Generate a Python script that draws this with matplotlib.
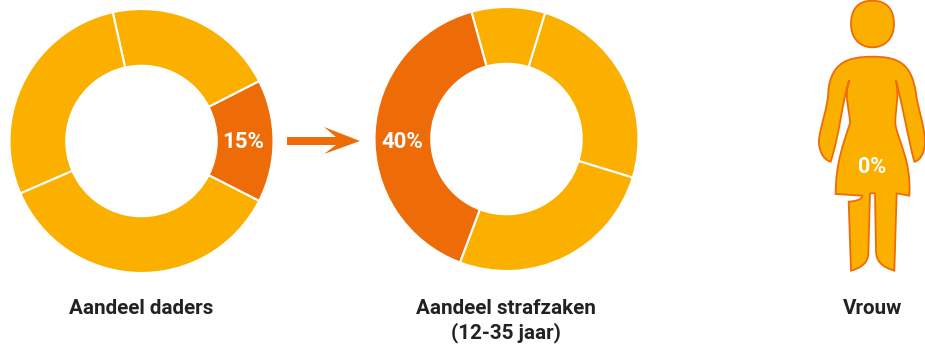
import matplotlib
matplotlib.use('Agg')
import matplotlib.pyplot as plt
from matplotlib.path import Path
from matplotlib.patches import PathPatch, Polygon

W, H = 925, 347
plt.rcParams['font.family'] = ['Roboto', 'DejaVu Sans']

# aandeel per groep, het gemarkeerde deel heeft de donkere kleur
daders = [15, 21, 28, 36]
daders_colors = ['#ee6c08', '#fbb000', '#fbb000', '#fbb000']
strafzaken = [25, 9, 40, 26]
strafzaken_colors = ['#fbb000', '#fbb000', '#ee6c08', '#fbb000']

label_daders = '15%'
label_strafzaken = '40%'
label_vrouw = '0%'
title_daders = 'Aandeel daders'
title_strafzaken = 'Aandeel strafzaken'
sub_strafzaken = '(12-35 jaar)'
title_vrouw = 'Vrouw'

ORANGE = '#ee6c08'
YELLOW = '#fbb000'
TEXT = '#222222'

fig = plt.figure(figsize=(W / 100, H / 100), dpi=100)


def donut(vals, colors, start, cx, cy, r=132):
    ax = fig.add_axes([(cx - r - 2) / W, 1 - (cy + r + 2) / H, (2 * r + 4) / W, (2 * r + 4) / H])
    ax.pie(vals, colors=colors, startangle=start, counterclock=True, radius=1,
           wedgeprops={'width': 0.43, 'edgecolor': 'white', 'linewidth': 1.5})
    ax.set_xlim(-(r + 2) / r, (r + 2) / r)
    ax.set_ylim(-(r + 2) / r, (r + 2) / r)
    return ax


donut(daders, daders_colors, -27, 141.5, 141)
donut(strafzaken, strafzaken_colors, -17, 506.5, 139)

# overlay in pixels
top = fig.add_axes([0, 0, 1, 1])
top.set_xlim(0, W)
top.set_ylim(H, 0)
top.axis('off')
top.patch.set_alpha(0)
top.set_zorder(5)

# pijl
top.add_patch(Polygon([(287, 137), (336, 137), (324, 127), (360, 141), (324, 154), (336, 145), (287, 145)],
                      closed=True, fc=ORANGE, ec='none'))


def body_path(segs, ox=800, oy=0, s=1 / 3):
    verts, codes = [], []
    for i, seg in enumerate(segs):
        pts = [(ox + x * s, oy + y * s) for x, y in seg]
        verts += pts
        if i == 0:
            codes += [Path.MOVETO]
        elif len(pts) == 1:
            codes += [Path.LINETO]
        else:
            codes += [Path.CURVE4] * 3
    verts.append(verts[0])
    codes.append(Path.CLOSEPOLY)
    return Path(verts, codes)


# hoofd
head = [[(217, 2)],
        [(262, 2), (282, 30), (282, 72)],
        [(282, 115), (255, 142), (217, 142)],
        [(180, 142), (153, 115), (153, 72)],
        [(153, 30), (172, 2), (217, 2)]]

# lichaam, coordinaten in de 3x uitsnede
body = [[(217, 170)],
        [(295, 170), (335, 190), (348, 280)],
        [(352, 320), (375, 380), (375, 425)],
        [(375, 455), (362, 482), (343, 485)],
        [(325, 420), (305, 300), (287, 240)],
        [(300, 280), (285, 330), (286, 370)],
        [(292, 420), (335, 480), (328, 587)],
        [(290, 580)],
        [(283, 812)],
        [(245, 800), (228, 785), (228, 750)],
        [(225, 580)],
        [(210, 580)],
        [(205, 760)],
        [(205, 790), (180, 805), (153, 812)],
        [(146, 605)],
        [(165, 604), (185, 600), (187, 587)],
        [(107, 582)],
        [(107, 490), (130, 430), (150, 370)],
        [(150, 330), (130, 290), (148, 240)],
        [(125, 310), (120, 400), (92, 485)],
        [(70, 480), (55, 450), (57, 420)],
        [(60, 380), (85, 320), (85, 270)],
        [(95, 190), (140, 170), (217, 170)]]

for segs in (head, body):
    top.add_patch(PathPatch(body_path(segs), fc=YELLOW, ec=ORANGE, lw=1.3, joinstyle='miter'))

top.text(243.5, 142, label_daders, color='white', fontsize=16, fontweight='bold', ha='center', va='center')
top.text(402.5, 142, label_strafzaken, color='white', fontsize=16, fontweight='bold', ha='center', va='center')
top.text(872.5, 167, label_vrouw, color='white', fontsize=15.5, fontweight='bold', ha='center', va='center')

top.text(141.5, 309, title_daders, color=TEXT, fontsize=14.9, fontweight='bold', ha='center', va='center')
top.text(505.5, 308, title_strafzaken, color=TEXT, fontsize=14.9, fontweight='bold', ha='center', va='center')
top.text(505.5, 333, sub_strafzaken, color=TEXT, fontsize=14.9, fontweight='bold', ha='center', va='center')
top.text(872.5, 309, title_vrouw, color=TEXT, fontsize=14.9, fontweight='bold', ha='center', va='center')

plt.savefig('out.png', dpi=100)
